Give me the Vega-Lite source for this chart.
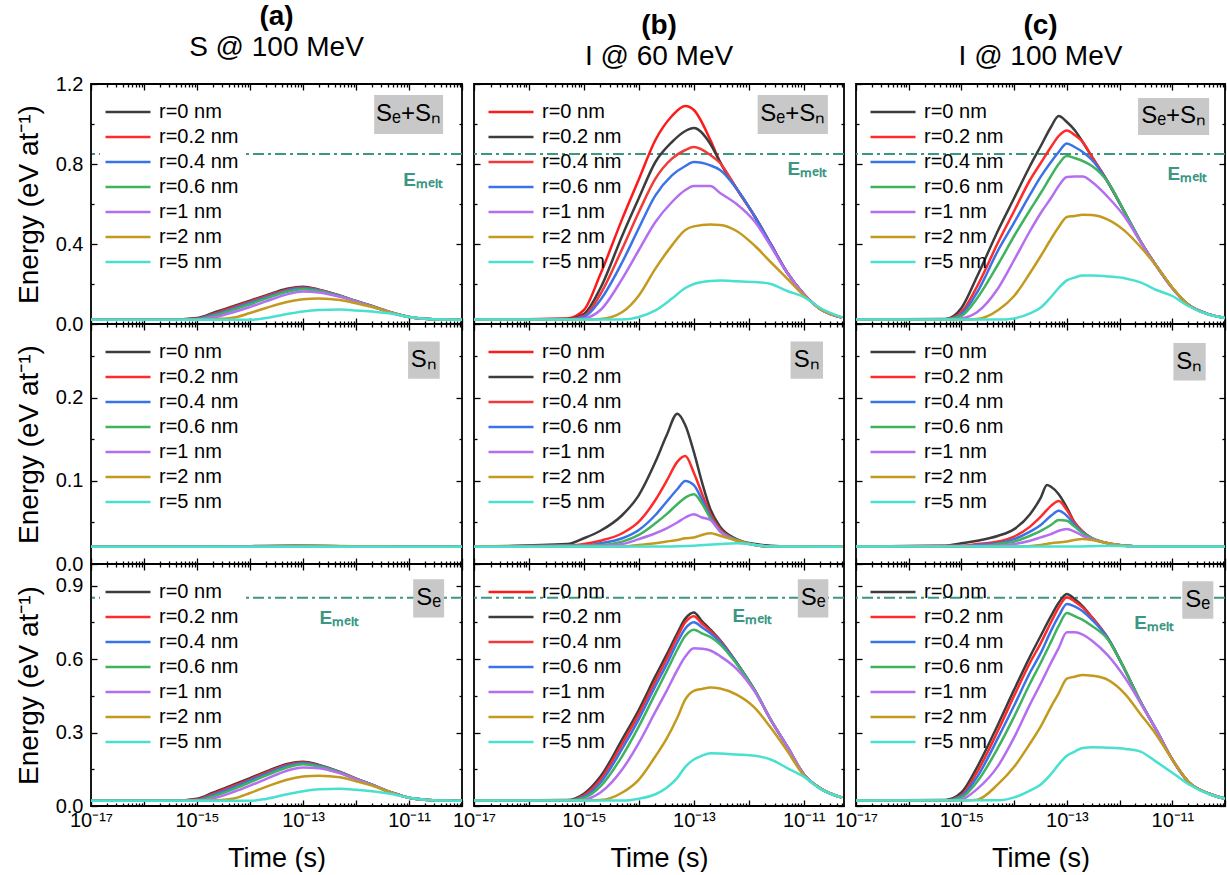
{
"$schema": "https://vega.github.io/schema/vega-lite/v6.json",
"padding": {"left": 14, "top": 2, "right": 0, "bottom": 0},
"params": [
 {"name": "xa", "value": [1e-17,2e-17,3e-17,4e-17,5e-17,6e-17,7e-17,8e-17,9e-17,1e-16,2e-16,3e-16,4e-16,5e-16,6e-16,7e-16,8e-16,9e-16,1e-15,2e-15,3e-15,4e-15,5e-15,6e-15,7e-15,8e-15,9e-15,1e-14,2e-14,3e-14,4e-14,5e-14,6e-14,7e-14,8e-14,9e-14,1e-13,2e-13,3e-13,4e-13,5e-13,6e-13,7e-13,8e-13,9e-13,1e-12,2e-12,3e-12,4e-12,5e-12,6e-12,7e-12,8e-12,9e-12,1e-11,2e-11,3e-11,4e-11,5e-11,6e-11,7e-11,8e-11,9e-11,1e-10]},
 {"name": "xb", "value": [1e-17,2e-17,3e-17,4e-17,5e-17,6e-17,7e-17,8e-17,9e-17,1e-16,2e-16,3e-16,4e-16,5e-16,6e-16,7e-16,8e-16,9e-16,1e-15,2e-15,3e-15,4e-15,5e-15,6e-15,7e-15,8e-15,9e-15,1e-14,2e-14,3e-14,4e-14,5e-14,6e-14,7e-14,8e-14,9e-14,1e-13,2e-13,3e-13,4e-13,5e-13,6e-13,7e-13,8e-13,9e-13,1e-12,2e-12,3e-12,4e-12,5e-12,6e-12,7e-12,8e-12,9e-12,1e-11,2e-11,3e-11,4e-11,5e-11]}
],
"bounds": "flush",
"columns": 3,
"spacing": {"row": 0, "column": 12},
"resolve": {"scale": {"x": "independent", "y": "independent", "color": "independent"}, "axis": {"x": "independent", "y": "independent"}, "legend": {"color": "independent"}},
"datasets": {
"a1": [
{"r":"0","t":1e-17,"e":0.021},{"r":"0","t":3e-16,"e":0.021},{"r":"0","t":1e-15,"e":0.03},{"r":"0","t":2e-15,"e":0.055},{"r":"0","t":5e-15,"e":0.09},{"r":"0","t":1e-14,"e":0.117},{"r":"0","t":2e-14,"e":0.143},{"r":"0","t":5e-14,"e":0.176},{"r":"0","t":1e-13,"e":0.186},{"r":"0","t":2e-13,"e":0.172},{"r":"0","t":5e-13,"e":0.142},{"r":"0","t":1e-12,"e":0.115},{"r":"0","t":2e-12,"e":0.09},{"r":"0","t":5e-12,"e":0.055},{"r":"0","t":1e-11,"e":0.035},{"r":"0","t":2e-11,"e":0.026},{"r":"0","t":5e-11,"e":0.022},{"r":"0","t":1e-10,"e":0.021},
{"r":"0.2","t":1e-17,"e":0.021},{"r":"0.2","t":3e-16,"e":0.021},{"r":"0.2","t":1e-15,"e":0.027},{"r":"0.2","t":2e-15,"e":0.05},{"r":"0.2","t":5e-15,"e":0.085},{"r":"0.2","t":1e-14,"e":0.112},{"r":"0.2","t":2e-14,"e":0.139},{"r":"0.2","t":5e-14,"e":0.172},{"r":"0.2","t":1e-13,"e":0.183},{"r":"0.2","t":2e-13,"e":0.17},{"r":"0.2","t":5e-13,"e":0.141},{"r":"0.2","t":1e-12,"e":0.115},{"r":"0.2","t":2e-12,"e":0.09},{"r":"0.2","t":5e-12,"e":0.055},{"r":"0.2","t":1e-11,"e":0.035},{"r":"0.2","t":2e-11,"e":0.026},{"r":"0.2","t":5e-11,"e":0.022},{"r":"0.2","t":1e-10,"e":0.021},
{"r":"0.4","t":1e-17,"e":0.021},{"r":"0.4","t":3e-16,"e":0.021},{"r":"0.4","t":1e-15,"e":0.025},{"r":"0.4","t":2e-15,"e":0.045},{"r":"0.4","t":5e-15,"e":0.079},{"r":"0.4","t":1e-14,"e":0.106},{"r":"0.4","t":2e-14,"e":0.133},{"r":"0.4","t":5e-14,"e":0.167},{"r":"0.4","t":1e-13,"e":0.179},{"r":"0.4","t":2e-13,"e":0.168},{"r":"0.4","t":5e-13,"e":0.14},{"r":"0.4","t":1e-12,"e":0.114},{"r":"0.4","t":2e-12,"e":0.089},{"r":"0.4","t":5e-12,"e":0.055},{"r":"0.4","t":1e-11,"e":0.035},{"r":"0.4","t":2e-11,"e":0.026},{"r":"0.4","t":5e-11,"e":0.022},{"r":"0.4","t":1e-10,"e":0.021},
{"r":"0.6","t":1e-17,"e":0.021},{"r":"0.6","t":3e-16,"e":0.021},{"r":"0.6","t":1e-15,"e":0.023},{"r":"0.6","t":2e-15,"e":0.04},{"r":"0.6","t":5e-15,"e":0.072},{"r":"0.6","t":1e-14,"e":0.099},{"r":"0.6","t":2e-14,"e":0.127},{"r":"0.6","t":5e-14,"e":0.161},{"r":"0.6","t":1e-13,"e":0.174},{"r":"0.6","t":2e-13,"e":0.165},{"r":"0.6","t":5e-13,"e":0.139},{"r":"0.6","t":1e-12,"e":0.114},{"r":"0.6","t":2e-12,"e":0.089},{"r":"0.6","t":5e-12,"e":0.055},{"r":"0.6","t":1e-11,"e":0.035},{"r":"0.6","t":2e-11,"e":0.026},{"r":"0.6","t":5e-11,"e":0.022},{"r":"0.6","t":1e-10,"e":0.021},
{"r":"1","t":1e-17,"e":0.021},{"r":"1","t":3e-16,"e":0.021},{"r":"1","t":1e-15,"e":0.022},{"r":"1","t":2e-15,"e":0.032},{"r":"1","t":5e-15,"e":0.06},{"r":"1","t":1e-14,"e":0.085},{"r":"1","t":2e-14,"e":0.113},{"r":"1","t":5e-14,"e":0.148},{"r":"1","t":1e-13,"e":0.162},{"r":"1","t":2e-13,"e":0.158},{"r":"1","t":5e-13,"e":0.136},{"r":"1","t":1e-12,"e":0.112},{"r":"1","t":2e-12,"e":0.088},{"r":"1","t":5e-12,"e":0.055},{"r":"1","t":1e-11,"e":0.035},{"r":"1","t":2e-11,"e":0.026},{"r":"1","t":5e-11,"e":0.022},{"r":"1","t":1e-10,"e":0.021},
{"r":"2","t":1e-17,"e":0.021},{"r":"2","t":1e-15,"e":0.021},{"r":"2","t":2e-15,"e":0.023},{"r":"2","t":5e-15,"e":0.032},{"r":"2","t":1e-14,"e":0.055},{"r":"2","t":2e-14,"e":0.08},{"r":"2","t":5e-14,"e":0.11},{"r":"2","t":1e-13,"e":0.124},{"r":"2","t":2e-13,"e":0.128},{"r":"2","t":5e-13,"e":0.12},{"r":"2","t":1e-12,"e":0.104},{"r":"2","t":2e-12,"e":0.085},{"r":"2","t":5e-12,"e":0.054},{"r":"2","t":1e-11,"e":0.035},{"r":"2","t":2e-11,"e":0.026},{"r":"2","t":5e-11,"e":0.022},{"r":"2","t":1e-10,"e":0.021},
{"r":"5","t":1e-17,"e":0.021},{"r":"5","t":1e-14,"e":0.021},{"r":"5","t":2e-14,"e":0.03},{"r":"5","t":5e-14,"e":0.05},{"r":"5","t":1e-13,"e":0.063},{"r":"5","t":2e-13,"e":0.07},{"r":"5","t":5e-13,"e":0.072},{"r":"5","t":1e-12,"e":0.068},{"r":"5","t":2e-12,"e":0.062},{"r":"5","t":5e-12,"e":0.05},{"r":"5","t":1e-11,"e":0.035},{"r":"5","t":2e-11,"e":0.026},{"r":"5","t":5e-11,"e":0.022},{"r":"5","t":1e-10,"e":0.021}
],
"a2": [
{"r":"0","t":1e-17,"e":0.0208},{"r":"0","t":1e-15,"e":0.021},{"r":"0","t":1e-14,"e":0.0215},{"r":"0","t":7e-14,"e":0.022},{"r":"0","t":5e-13,"e":0.0215},{"r":"0","t":5e-12,"e":0.021},{"r":"0","t":1e-10,"e":0.0208},
{"r":"0.2","t":1e-17,"e":0.0208},{"r":"0.2","t":1e-15,"e":0.0209},{"r":"0.2","t":1e-14,"e":0.0213},{"r":"0.2","t":1e-13,"e":0.0218},{"r":"0.2","t":1e-12,"e":0.0213},{"r":"0.2","t":1e-11,"e":0.0209},{"r":"0.2","t":1e-10,"e":0.0208},
{"r":"0.4","t":1e-17,"e":0.0208},{"r":"0.4","t":1e-15,"e":0.0209},{"r":"0.4","t":1e-14,"e":0.0213},{"r":"0.4","t":1e-13,"e":0.0217},{"r":"0.4","t":1e-12,"e":0.0213},{"r":"0.4","t":1e-11,"e":0.0209},{"r":"0.4","t":1e-10,"e":0.0208},
{"r":"0.6","t":1e-17,"e":0.0208},{"r":"0.6","t":1e-15,"e":0.0209},{"r":"0.6","t":1e-14,"e":0.0212},{"r":"0.6","t":1e-13,"e":0.0216},{"r":"0.6","t":1e-12,"e":0.0213},{"r":"0.6","t":1e-11,"e":0.0209},{"r":"0.6","t":1e-10,"e":0.0208},
{"r":"1","t":1e-17,"e":0.0208},{"r":"1","t":1e-15,"e":0.0208},{"r":"1","t":1e-14,"e":0.0211},{"r":"1","t":1e-13,"e":0.0215},{"r":"1","t":1e-12,"e":0.0212},{"r":"1","t":1e-11,"e":0.0209},{"r":"1","t":1e-10,"e":0.0208},
{"r":"2","t":1e-17,"e":0.0208},{"r":"2","t":1e-14,"e":0.0209},{"r":"2","t":1e-13,"e":0.0213},{"r":"2","t":1e-12,"e":0.0212},{"r":"2","t":1e-11,"e":0.0209},{"r":"2","t":1e-10,"e":0.0208},
{"r":"5","t":1e-17,"e":0.0208},{"r":"5","t":1e-13,"e":0.0209},{"r":"5","t":1e-10,"e":0.0208}
],
"a3": [
{"r":"0","t":1e-17,"e":0.021},{"r":"0","t":3e-16,"e":0.021},{"r":"0","t":1e-15,"e":0.03},{"r":"0","t":2e-15,"e":0.054},{"r":"0","t":5e-15,"e":0.088},{"r":"0","t":1e-14,"e":0.114},{"r":"0","t":2e-14,"e":0.14},{"r":"0","t":5e-14,"e":0.172},{"r":"0","t":1e-13,"e":0.181},{"r":"0","t":2e-13,"e":0.168},{"r":"0","t":5e-13,"e":0.139},{"r":"0","t":1e-12,"e":0.112},{"r":"0","t":2e-12,"e":0.087},{"r":"0","t":5e-12,"e":0.053},{"r":"0","t":1e-11,"e":0.034},{"r":"0","t":2e-11,"e":0.026},{"r":"0","t":5e-11,"e":0.022},{"r":"0","t":1e-10,"e":0.021},
{"r":"0.2","t":1e-17,"e":0.021},{"r":"0.2","t":3e-16,"e":0.021},{"r":"0.2","t":1e-15,"e":0.027},{"r":"0.2","t":2e-15,"e":0.049},{"r":"0.2","t":5e-15,"e":0.083},{"r":"0.2","t":1e-14,"e":0.109},{"r":"0.2","t":2e-14,"e":0.136},{"r":"0.2","t":5e-14,"e":0.168},{"r":"0.2","t":1e-13,"e":0.178},{"r":"0.2","t":2e-13,"e":0.166},{"r":"0.2","t":5e-13,"e":0.138},{"r":"0.2","t":1e-12,"e":0.112},{"r":"0.2","t":2e-12,"e":0.087},{"r":"0.2","t":5e-12,"e":0.053},{"r":"0.2","t":1e-11,"e":0.034},{"r":"0.2","t":2e-11,"e":0.026},{"r":"0.2","t":5e-11,"e":0.022},{"r":"0.2","t":1e-10,"e":0.021},
{"r":"0.4","t":1e-17,"e":0.021},{"r":"0.4","t":3e-16,"e":0.021},{"r":"0.4","t":1e-15,"e":0.025},{"r":"0.4","t":2e-15,"e":0.044},{"r":"0.4","t":5e-15,"e":0.077},{"r":"0.4","t":1e-14,"e":0.104},{"r":"0.4","t":2e-14,"e":0.13},{"r":"0.4","t":5e-14,"e":0.163},{"r":"0.4","t":1e-13,"e":0.175},{"r":"0.4","t":2e-13,"e":0.164},{"r":"0.4","t":5e-13,"e":0.137},{"r":"0.4","t":1e-12,"e":0.111},{"r":"0.4","t":2e-12,"e":0.087},{"r":"0.4","t":5e-12,"e":0.053},{"r":"0.4","t":1e-11,"e":0.034},{"r":"0.4","t":2e-11,"e":0.026},{"r":"0.4","t":5e-11,"e":0.022},{"r":"0.4","t":1e-10,"e":0.021},
{"r":"0.6","t":1e-17,"e":0.021},{"r":"0.6","t":3e-16,"e":0.021},{"r":"0.6","t":1e-15,"e":0.023},{"r":"0.6","t":2e-15,"e":0.039},{"r":"0.6","t":5e-15,"e":0.07},{"r":"0.6","t":1e-14,"e":0.097},{"r":"0.6","t":2e-14,"e":0.124},{"r":"0.6","t":5e-14,"e":0.157},{"r":"0.6","t":1e-13,"e":0.17},{"r":"0.6","t":2e-13,"e":0.161},{"r":"0.6","t":5e-13,"e":0.136},{"r":"0.6","t":1e-12,"e":0.111},{"r":"0.6","t":2e-12,"e":0.087},{"r":"0.6","t":5e-12,"e":0.053},{"r":"0.6","t":1e-11,"e":0.034},{"r":"0.6","t":2e-11,"e":0.026},{"r":"0.6","t":5e-11,"e":0.022},{"r":"0.6","t":1e-10,"e":0.021},
{"r":"1","t":1e-17,"e":0.021},{"r":"1","t":3e-16,"e":0.021},{"r":"1","t":1e-15,"e":0.022},{"r":"1","t":2e-15,"e":0.031},{"r":"1","t":5e-15,"e":0.058},{"r":"1","t":1e-14,"e":0.083},{"r":"1","t":2e-14,"e":0.11},{"r":"1","t":5e-14,"e":0.144},{"r":"1","t":1e-13,"e":0.157},{"r":"1","t":2e-13,"e":0.154},{"r":"1","t":5e-13,"e":0.133},{"r":"1","t":1e-12,"e":0.109},{"r":"1","t":2e-12,"e":0.086},{"r":"1","t":5e-12,"e":0.053},{"r":"1","t":1e-11,"e":0.034},{"r":"1","t":2e-11,"e":0.026},{"r":"1","t":5e-11,"e":0.022},{"r":"1","t":1e-10,"e":0.021},
{"r":"2","t":1e-17,"e":0.021},{"r":"2","t":1e-15,"e":0.021},{"r":"2","t":2e-15,"e":0.023},{"r":"2","t":5e-15,"e":0.031},{"r":"2","t":1e-14,"e":0.053},{"r":"2","t":2e-14,"e":0.078},{"r":"2","t":5e-14,"e":0.107},{"r":"2","t":1e-13,"e":0.12},{"r":"2","t":2e-13,"e":0.124},{"r":"2","t":5e-13,"e":0.117},{"r":"2","t":1e-12,"e":0.101},{"r":"2","t":2e-12,"e":0.083},{"r":"2","t":5e-12,"e":0.052},{"r":"2","t":1e-11,"e":0.034},{"r":"2","t":2e-11,"e":0.026},{"r":"2","t":5e-11,"e":0.022},{"r":"2","t":1e-10,"e":0.021},
{"r":"5","t":1e-17,"e":0.021},{"r":"5","t":1e-14,"e":0.021},{"r":"5","t":2e-14,"e":0.029},{"r":"5","t":5e-14,"e":0.048},{"r":"5","t":1e-13,"e":0.06},{"r":"5","t":2e-13,"e":0.068},{"r":"5","t":5e-13,"e":0.07},{"r":"5","t":1e-12,"e":0.066},{"r":"5","t":2e-12,"e":0.06},{"r":"5","t":5e-12,"e":0.048},{"r":"5","t":1e-11,"e":0.034},{"r":"5","t":2e-11,"e":0.026},{"r":"5","t":5e-11,"e":0.022},{"r":"5","t":1e-10,"e":0.021}
],
"b1": [
{"r":"0","t":1e-17,"e":0.022},{"r":"0","t":5e-16,"e":0.028},{"r":"0","t":1e-15,"e":0.07},{"r":"0","t":2e-15,"e":0.25},{"r":"0","t":5e-15,"e":0.527},{"r":"0","t":1e-14,"e":0.724},{"r":"0","t":2e-14,"e":0.92},{"r":"0","t":4e-14,"e":1.04},{"r":"0","t":7e-14,"e":1.09},{"r":"0","t":1e-13,"e":1.07},{"r":"0","t":2e-13,"e":0.92},{"r":"0","t":3e-13,"e":0.81},{"r":"0","t":6e-13,"e":0.677},{"r":"0","t":1.3e-12,"e":0.535},{"r":"0","t":2.5e-12,"e":0.4},{"r":"0","t":5e-12,"e":0.257},{"r":"0","t":1e-11,"e":0.15},{"r":"0","t":2e-11,"e":0.075},{"r":"0","t":5e-11,"e":0.032},
{"r":"0.2","t":1e-17,"e":0.022},{"r":"0.2","t":5e-16,"e":0.025},{"r":"0.2","t":1e-15,"e":0.05},{"r":"0.2","t":2e-15,"e":0.18},{"r":"0.2","t":5e-15,"e":0.443},{"r":"0.2","t":1e-14,"e":0.63},{"r":"0.2","t":2e-14,"e":0.81},{"r":"0.2","t":4e-14,"e":0.91},{"r":"0.2","t":7e-14,"e":0.965},{"r":"0.2","t":1e-13,"e":0.98},{"r":"0.2","t":2e-13,"e":0.9},{"r":"0.2","t":3e-13,"e":0.81},{"r":"0.2","t":6e-13,"e":0.677},{"r":"0.2","t":1.3e-12,"e":0.535},{"r":"0.2","t":2.5e-12,"e":0.4},{"r":"0.2","t":5e-12,"e":0.257},{"r":"0.2","t":1e-11,"e":0.15},{"r":"0.2","t":2e-11,"e":0.075},{"r":"0.2","t":5e-11,"e":0.032},
{"r":"0.4","t":1e-17,"e":0.022},{"r":"0.4","t":5e-16,"e":0.023},{"r":"0.4","t":1e-15,"e":0.04},{"r":"0.4","t":2e-15,"e":0.15},{"r":"0.4","t":5e-15,"e":0.377},{"r":"0.4","t":1e-14,"e":0.56},{"r":"0.4","t":2e-14,"e":0.727},{"r":"0.4","t":4e-14,"e":0.827},{"r":"0.4","t":7e-14,"e":0.87},{"r":"0.4","t":1e-13,"e":0.885},{"r":"0.4","t":2e-13,"e":0.845},{"r":"0.4","t":3e-13,"e":0.805},{"r":"0.4","t":6e-13,"e":0.677},{"r":"0.4","t":1.3e-12,"e":0.535},{"r":"0.4","t":2.5e-12,"e":0.4},{"r":"0.4","t":5e-12,"e":0.257},{"r":"0.4","t":1e-11,"e":0.15},{"r":"0.4","t":2e-11,"e":0.075},{"r":"0.4","t":5e-11,"e":0.032},
{"r":"0.6","t":1e-17,"e":0.022},{"r":"0.6","t":5e-16,"e":0.022},{"r":"0.6","t":1e-15,"e":0.035},{"r":"0.6","t":2e-15,"e":0.12},{"r":"0.6","t":5e-15,"e":0.31},{"r":"0.6","t":1e-14,"e":0.48},{"r":"0.6","t":2e-14,"e":0.643},{"r":"0.6","t":4e-14,"e":0.743},{"r":"0.6","t":7e-14,"e":0.79},{"r":"0.6","t":1e-13,"e":0.81},{"r":"0.6","t":2e-13,"e":0.793},{"r":"0.6","t":3e-13,"e":0.77},{"r":"0.6","t":6e-13,"e":0.677},{"r":"0.6","t":1.3e-12,"e":0.535},{"r":"0.6","t":2.5e-12,"e":0.4},{"r":"0.6","t":5e-12,"e":0.257},{"r":"0.6","t":1e-11,"e":0.15},{"r":"0.6","t":2e-11,"e":0.075},{"r":"0.6","t":5e-11,"e":0.032},
{"r":"1","t":1e-17,"e":0.022},{"r":"1","t":5e-16,"e":0.022},{"r":"1","t":1e-15,"e":0.028},{"r":"1","t":2e-15,"e":0.07},{"r":"1","t":5e-15,"e":0.227},{"r":"1","t":1e-14,"e":0.37},{"r":"1","t":2e-14,"e":0.51},{"r":"1","t":4e-14,"e":0.61},{"r":"1","t":7e-14,"e":0.67},{"r":"1","t":1e-13,"e":0.69},{"r":"1","t":2e-13,"e":0.69},{"r":"1","t":3e-13,"e":0.655},{"r":"1","t":6e-13,"e":0.6},{"r":"1","t":1.3e-12,"e":0.51},{"r":"1","t":2.5e-12,"e":0.39},{"r":"1","t":5e-12,"e":0.255},{"r":"1","t":1e-11,"e":0.15},{"r":"1","t":2e-11,"e":0.075},{"r":"1","t":5e-11,"e":0.032},
{"r":"2","t":1e-17,"e":0.022},{"r":"2","t":1e-15,"e":0.022},{"r":"2","t":2e-15,"e":0.025},{"r":"2","t":5e-15,"e":0.06},{"r":"2","t":1e-14,"e":0.143},{"r":"2","t":2e-14,"e":0.277},{"r":"2","t":4e-14,"e":0.393},{"r":"2","t":7e-14,"e":0.47},{"r":"2","t":1e-13,"e":0.488},{"r":"2","t":2e-13,"e":0.497},{"r":"2","t":3e-13,"e":0.495},{"r":"2","t":6e-13,"e":0.465},{"r":"2","t":1.3e-12,"e":0.39},{"r":"2","t":2.5e-12,"e":0.31},{"r":"2","t":5e-12,"e":0.227},{"r":"2","t":1e-11,"e":0.143},{"r":"2","t":2e-11,"e":0.075},{"r":"2","t":5e-11,"e":0.032},
{"r":"5","t":1e-17,"e":0.022},{"r":"5","t":5e-15,"e":0.022},{"r":"5","t":1e-14,"e":0.035},{"r":"5","t":2e-14,"e":0.068},{"r":"5","t":4e-14,"e":0.127},{"r":"5","t":7e-14,"e":0.18},{"r":"5","t":1e-13,"e":0.2},{"r":"5","t":2e-13,"e":0.215},{"r":"5","t":3e-13,"e":0.217},{"r":"5","t":6e-13,"e":0.214},{"r":"5","t":1.3e-12,"e":0.21},{"r":"5","t":2.5e-12,"e":0.2},{"r":"5","t":5e-12,"e":0.165},{"r":"5","t":1e-11,"e":0.135},{"r":"5","t":2e-11,"e":0.08},{"r":"5","t":5e-11,"e":0.033}
],
"b2": [
{"r":"0","t":1e-17,"e":0.021},{"r":"0","t":5e-16,"e":0.024},{"r":"0","t":1e-15,"e":0.031},{"r":"0","t":2e-15,"e":0.04},{"r":"0","t":5e-15,"e":0.059},{"r":"0","t":1e-14,"e":0.083},{"r":"0","t":2e-14,"e":0.123},{"r":"0","t":3.2e-14,"e":0.155},{"r":"0","t":5e-14,"e":0.181},{"r":"0","t":7e-14,"e":0.167},{"r":"0","t":1e-13,"e":0.135},{"r":"0","t":1.4e-13,"e":0.099},{"r":"0","t":2e-13,"e":0.066},{"r":"0","t":3e-13,"e":0.045},{"r":"0","t":6e-13,"e":0.03},{"r":"0","t":1.3e-12,"e":0.024},{"r":"0","t":2.5e-12,"e":0.022},{"r":"0","t":5e-12,"e":0.021},{"r":"0","t":5e-11,"e":0.021},
{"r":"0.2","t":1e-17,"e":0.021},{"r":"0.2","t":5e-16,"e":0.022},{"r":"0.2","t":1e-15,"e":0.024},{"r":"0.2","t":2e-15,"e":0.028},{"r":"0.2","t":5e-15,"e":0.037},{"r":"0.2","t":1e-14,"e":0.051},{"r":"0.2","t":2e-14,"e":0.077},{"r":"0.2","t":3.2e-14,"e":0.1},{"r":"0.2","t":5e-14,"e":0.123},{"r":"0.2","t":7e-14,"e":0.13},{"r":"0.2","t":1e-13,"e":0.11},{"r":"0.2","t":1.4e-13,"e":0.085},{"r":"0.2","t":2e-13,"e":0.06},{"r":"0.2","t":3e-13,"e":0.042},{"r":"0.2","t":6e-13,"e":0.029},{"r":"0.2","t":1.3e-12,"e":0.023},{"r":"0.2","t":2.5e-12,"e":0.021},{"r":"0.2","t":5e-11,"e":0.021},
{"r":"0.4","t":1e-17,"e":0.021},{"r":"0.4","t":1e-15,"e":0.022},{"r":"0.4","t":2e-15,"e":0.025},{"r":"0.4","t":5e-15,"e":0.031},{"r":"0.4","t":1e-14,"e":0.041},{"r":"0.4","t":2e-14,"e":0.059},{"r":"0.4","t":3.2e-14,"e":0.075},{"r":"0.4","t":5e-14,"e":0.09},{"r":"0.4","t":7e-14,"e":0.1},{"r":"0.4","t":1e-13,"e":0.095},{"r":"0.4","t":1.4e-13,"e":0.078},{"r":"0.4","t":2e-13,"e":0.057},{"r":"0.4","t":3e-13,"e":0.04},{"r":"0.4","t":6e-13,"e":0.029},{"r":"0.4","t":1.3e-12,"e":0.023},{"r":"0.4","t":2.5e-12,"e":0.021},{"r":"0.4","t":5e-11,"e":0.021},
{"r":"0.6","t":1e-17,"e":0.021},{"r":"0.6","t":2e-15,"e":0.023},{"r":"0.6","t":5e-15,"e":0.027},{"r":"0.6","t":1e-14,"e":0.035},{"r":"0.6","t":2e-14,"e":0.049},{"r":"0.6","t":3.2e-14,"e":0.06},{"r":"0.6","t":5e-14,"e":0.072},{"r":"0.6","t":7e-14,"e":0.08},{"r":"0.6","t":1e-13,"e":0.084},{"r":"0.6","t":1.4e-13,"e":0.073},{"r":"0.6","t":2e-13,"e":0.055},{"r":"0.6","t":3e-13,"e":0.04},{"r":"0.6","t":6e-13,"e":0.029},{"r":"0.6","t":1.3e-12,"e":0.023},{"r":"0.6","t":2.5e-12,"e":0.021},{"r":"0.6","t":5e-11,"e":0.021},
{"r":"1","t":1e-17,"e":0.021},{"r":"1","t":2e-15,"e":0.022},{"r":"1","t":5e-15,"e":0.024},{"r":"1","t":1e-14,"e":0.03},{"r":"1","t":2e-14,"e":0.037},{"r":"1","t":3.2e-14,"e":0.043},{"r":"1","t":5e-14,"e":0.05},{"r":"1","t":7e-14,"e":0.056},{"r":"1","t":1e-13,"e":0.06},{"r":"1","t":1.4e-13,"e":0.056},{"r":"1","t":2e-13,"e":0.053},{"r":"1","t":3e-13,"e":0.039},{"r":"1","t":6e-13,"e":0.028},{"r":"1","t":1.3e-12,"e":0.023},{"r":"1","t":2.5e-12,"e":0.021},{"r":"1","t":5e-11,"e":0.021},
{"r":"2","t":1e-17,"e":0.021},{"r":"2","t":5e-15,"e":0.021},{"r":"2","t":1e-14,"e":0.023},{"r":"2","t":2e-14,"e":0.025},{"r":"2","t":3.2e-14,"e":0.027},{"r":"2","t":5e-14,"e":0.029},{"r":"2","t":7e-14,"e":0.031},{"r":"2","t":1e-13,"e":0.032},{"r":"2","t":1.4e-13,"e":0.035},{"r":"2","t":2e-13,"e":0.037},{"r":"2","t":3e-13,"e":0.034},{"r":"2","t":6e-13,"e":0.028},{"r":"2","t":1.3e-12,"e":0.023},{"r":"2","t":2.5e-12,"e":0.021},{"r":"2","t":5e-11,"e":0.021},
{"r":"5","t":1e-17,"e":0.0207},{"r":"5","t":3.2e-14,"e":0.021},{"r":"5","t":1e-13,"e":0.022},{"r":"5","t":3e-13,"e":0.024},{"r":"5","t":6e-13,"e":0.025},{"r":"5","t":1.3e-12,"e":0.023},{"r":"5","t":2.5e-12,"e":0.021},{"r":"5","t":5e-11,"e":0.0207}
],
"b3": [
{"r":"0","t":1e-17,"e":0.022},{"r":"0","t":5e-16,"e":0.024},{"r":"0","t":1e-15,"e":0.05},{"r":"0","t":2e-15,"e":0.12},{"r":"0","t":5e-15,"e":0.273},{"r":"0","t":1e-14,"e":0.393},{"r":"0","t":2e-14,"e":0.53},{"r":"0","t":3.2e-14,"e":0.618},{"r":"0","t":5e-14,"e":0.705},{"r":"0","t":7e-14,"e":0.765},{"r":"0","t":1e-13,"e":0.79},{"r":"0","t":1.4e-13,"e":0.755},{"r":"0","t":2e-13,"e":0.72},{"r":"0","t":3e-13,"e":0.677},{"r":"0","t":6e-13,"e":0.585},{"r":"0","t":1.3e-12,"e":0.47},{"r":"0","t":2.5e-12,"e":0.353},{"r":"0","t":5e-12,"e":0.243},{"r":"0","t":1e-11,"e":0.13},{"r":"0","t":2e-11,"e":0.072},{"r":"0","t":5e-11,"e":0.034},
{"r":"0.2","t":1e-17,"e":0.022},{"r":"0.2","t":5e-16,"e":0.023},{"r":"0.2","t":1e-15,"e":0.044},{"r":"0.2","t":2e-15,"e":0.108},{"r":"0.2","t":5e-15,"e":0.255},{"r":"0.2","t":1e-14,"e":0.375},{"r":"0.2","t":2e-14,"e":0.51},{"r":"0.2","t":3.2e-14,"e":0.6},{"r":"0.2","t":5e-14,"e":0.69},{"r":"0.2","t":7e-14,"e":0.75},{"r":"0.2","t":1e-13,"e":0.775},{"r":"0.2","t":1.4e-13,"e":0.745},{"r":"0.2","t":2e-13,"e":0.715},{"r":"0.2","t":3e-13,"e":0.675},{"r":"0.2","t":6e-13,"e":0.585},{"r":"0.2","t":1.3e-12,"e":0.47},{"r":"0.2","t":2.5e-12,"e":0.353},{"r":"0.2","t":5e-12,"e":0.243},{"r":"0.2","t":1e-11,"e":0.13},{"r":"0.2","t":2e-11,"e":0.072},{"r":"0.2","t":5e-11,"e":0.034},
{"r":"0.4","t":1e-17,"e":0.022},{"r":"0.4","t":5e-16,"e":0.022},{"r":"0.4","t":1e-15,"e":0.038},{"r":"0.4","t":2e-15,"e":0.095},{"r":"0.4","t":5e-15,"e":0.235},{"r":"0.4","t":1e-14,"e":0.355},{"r":"0.4","t":2e-14,"e":0.49},{"r":"0.4","t":3.2e-14,"e":0.578},{"r":"0.4","t":5e-14,"e":0.668},{"r":"0.4","t":7e-14,"e":0.725},{"r":"0.4","t":1e-13,"e":0.75},{"r":"0.4","t":1.4e-13,"e":0.73},{"r":"0.4","t":2e-13,"e":0.705},{"r":"0.4","t":3e-13,"e":0.67},{"r":"0.4","t":6e-13,"e":0.585},{"r":"0.4","t":1.3e-12,"e":0.47},{"r":"0.4","t":2.5e-12,"e":0.353},{"r":"0.4","t":5e-12,"e":0.243},{"r":"0.4","t":1e-11,"e":0.13},{"r":"0.4","t":2e-11,"e":0.072},{"r":"0.4","t":5e-11,"e":0.034},
{"r":"0.6","t":1e-17,"e":0.022},{"r":"0.6","t":5e-16,"e":0.022},{"r":"0.6","t":1e-15,"e":0.033},{"r":"0.6","t":2e-15,"e":0.08},{"r":"0.6","t":5e-15,"e":0.205},{"r":"0.6","t":1e-14,"e":0.325},{"r":"0.6","t":2e-14,"e":0.46},{"r":"0.6","t":3.2e-14,"e":0.55},{"r":"0.6","t":5e-14,"e":0.638},{"r":"0.6","t":7e-14,"e":0.695},{"r":"0.6","t":1e-13,"e":0.72},{"r":"0.6","t":1.4e-13,"e":0.705},{"r":"0.6","t":2e-13,"e":0.69},{"r":"0.6","t":3e-13,"e":0.66},{"r":"0.6","t":6e-13,"e":0.58},{"r":"0.6","t":1.3e-12,"e":0.47},{"r":"0.6","t":2.5e-12,"e":0.353},{"r":"0.6","t":5e-12,"e":0.243},{"r":"0.6","t":1e-11,"e":0.13},{"r":"0.6","t":2e-11,"e":0.072},{"r":"0.6","t":5e-11,"e":0.034},
{"r":"1","t":1e-17,"e":0.022},{"r":"1","t":5e-16,"e":0.022},{"r":"1","t":1e-15,"e":0.026},{"r":"1","t":2e-15,"e":0.055},{"r":"1","t":5e-15,"e":0.15},{"r":"1","t":1e-14,"e":0.258},{"r":"1","t":2e-14,"e":0.385},{"r":"1","t":3.2e-14,"e":0.47},{"r":"1","t":5e-14,"e":0.555},{"r":"1","t":7e-14,"e":0.61},{"r":"1","t":1e-13,"e":0.644},{"r":"1","t":1.4e-13,"e":0.642},{"r":"1","t":2e-13,"e":0.635},{"r":"1","t":3e-13,"e":0.612},{"r":"1","t":6e-13,"e":0.56},{"r":"1","t":1.3e-12,"e":0.465},{"r":"1","t":2.5e-12,"e":0.353},{"r":"1","t":5e-12,"e":0.243},{"r":"1","t":1e-11,"e":0.13},{"r":"1","t":2e-11,"e":0.072},{"r":"1","t":5e-11,"e":0.034},
{"r":"2","t":1e-17,"e":0.022},{"r":"2","t":1e-15,"e":0.022},{"r":"2","t":2e-15,"e":0.024},{"r":"2","t":5e-15,"e":0.055},{"r":"2","t":1e-14,"e":0.108},{"r":"2","t":2e-14,"e":0.203},{"r":"2","t":3.2e-14,"e":0.275},{"r":"2","t":5e-14,"e":0.36},{"r":"2","t":7e-14,"e":0.435},{"r":"2","t":1e-13,"e":0.47},{"r":"2","t":1.4e-13,"e":0.478},{"r":"2","t":2e-13,"e":0.484},{"r":"2","t":3e-13,"e":0.48},{"r":"2","t":6e-13,"e":0.455},{"r":"2","t":1.3e-12,"e":0.4},{"r":"2","t":2.5e-12,"e":0.32},{"r":"2","t":5e-12,"e":0.225},{"r":"2","t":1e-11,"e":0.125},{"r":"2","t":2e-11,"e":0.072},{"r":"2","t":5e-11,"e":0.034},
{"r":"5","t":1e-17,"e":0.022},{"r":"5","t":5e-15,"e":0.022},{"r":"5","t":1e-14,"e":0.03},{"r":"5","t":2e-14,"e":0.048},{"r":"5","t":3.2e-14,"e":0.075},{"r":"5","t":5e-14,"e":0.115},{"r":"5","t":7e-14,"e":0.16},{"r":"5","t":1e-13,"e":0.19},{"r":"5","t":1.4e-13,"e":0.205},{"r":"5","t":2e-13,"e":0.215},{"r":"5","t":3e-13,"e":0.214},{"r":"5","t":6e-13,"e":0.21},{"r":"5","t":1.3e-12,"e":0.205},{"r":"5","t":2.5e-12,"e":0.19},{"r":"5","t":5e-12,"e":0.155},{"r":"5","t":1e-11,"e":0.12},{"r":"5","t":2e-11,"e":0.07},{"r":"5","t":5e-11,"e":0.034}
],
"c1": [
{"r":"0","t":1e-17,"e":0.022},{"r":"0","t":5e-16,"e":0.025},{"r":"0","t":1e-15,"e":0.08},{"r":"0","t":2e-15,"e":0.24},{"r":"0","t":5e-15,"e":0.47},{"r":"0","t":1e-14,"e":0.63},{"r":"0","t":2e-14,"e":0.79},{"r":"0","t":3.2e-14,"e":0.89},{"r":"0","t":5e-14,"e":0.985},{"r":"0","t":7e-14,"e":1.04},{"r":"0","t":1e-13,"e":1.01},{"r":"0","t":1.4e-13,"e":0.97},{"r":"0","t":2e-13,"e":0.91},{"r":"0","t":3e-13,"e":0.835},{"r":"0","t":6e-13,"e":0.71},{"r":"0","t":1.3e-12,"e":0.55},{"r":"0","t":2.5e-12,"e":0.413},{"r":"0","t":5e-12,"e":0.29},{"r":"0","t":1e-11,"e":0.18},{"r":"0","t":2e-11,"e":0.097},{"r":"0","t":5e-11,"e":0.048},{"r":"0","t":1e-10,"e":0.03},
{"r":"0.2","t":1e-17,"e":0.022},{"r":"0.2","t":5e-16,"e":0.023},{"r":"0.2","t":1e-15,"e":0.06},{"r":"0.2","t":2e-15,"e":0.19},{"r":"0.2","t":5e-15,"e":0.41},{"r":"0.2","t":1e-14,"e":0.565},{"r":"0.2","t":2e-14,"e":0.72},{"r":"0.2","t":3.2e-14,"e":0.805},{"r":"0.2","t":5e-14,"e":0.885},{"r":"0.2","t":7e-14,"e":0.94},{"r":"0.2","t":1e-13,"e":0.968},{"r":"0.2","t":1.4e-13,"e":0.945},{"r":"0.2","t":2e-13,"e":0.91},{"r":"0.2","t":3e-13,"e":0.835},{"r":"0.2","t":6e-13,"e":0.71},{"r":"0.2","t":1.3e-12,"e":0.55},{"r":"0.2","t":2.5e-12,"e":0.413},{"r":"0.2","t":5e-12,"e":0.29},{"r":"0.2","t":1e-11,"e":0.18},{"r":"0.2","t":2e-11,"e":0.097},{"r":"0.2","t":5e-11,"e":0.048},{"r":"0.2","t":1e-10,"e":0.03},
{"r":"0.4","t":1e-17,"e":0.022},{"r":"0.4","t":5e-16,"e":0.022},{"r":"0.4","t":1e-15,"e":0.05},{"r":"0.4","t":2e-15,"e":0.16},{"r":"0.4","t":5e-15,"e":0.37},{"r":"0.4","t":1e-14,"e":0.507},{"r":"0.4","t":2e-14,"e":0.647},{"r":"0.4","t":3.2e-14,"e":0.737},{"r":"0.4","t":5e-14,"e":0.81},{"r":"0.4","t":7e-14,"e":0.86},{"r":"0.4","t":1e-13,"e":0.903},{"r":"0.4","t":1.4e-13,"e":0.885},{"r":"0.4","t":2e-13,"e":0.86},{"r":"0.4","t":3e-13,"e":0.82},{"r":"0.4","t":6e-13,"e":0.71},{"r":"0.4","t":1.3e-12,"e":0.55},{"r":"0.4","t":2.5e-12,"e":0.413},{"r":"0.4","t":5e-12,"e":0.29},{"r":"0.4","t":1e-11,"e":0.18},{"r":"0.4","t":2e-11,"e":0.097},{"r":"0.4","t":5e-11,"e":0.048},{"r":"0.4","t":1e-10,"e":0.03},
{"r":"0.6","t":1e-17,"e":0.022},{"r":"0.6","t":5e-16,"e":0.022},{"r":"0.6","t":1e-15,"e":0.04},{"r":"0.6","t":2e-15,"e":0.13},{"r":"0.6","t":5e-15,"e":0.3},{"r":"0.6","t":1e-14,"e":0.44},{"r":"0.6","t":2e-14,"e":0.57},{"r":"0.6","t":3.2e-14,"e":0.655},{"r":"0.6","t":5e-14,"e":0.74},{"r":"0.6","t":7e-14,"e":0.8},{"r":"0.6","t":1e-13,"e":0.84},{"r":"0.6","t":1.4e-13,"e":0.83},{"r":"0.6","t":2e-13,"e":0.815},{"r":"0.6","t":3e-13,"e":0.79},{"r":"0.6","t":6e-13,"e":0.71},{"r":"0.6","t":1.3e-12,"e":0.55},{"r":"0.6","t":2.5e-12,"e":0.413},{"r":"0.6","t":5e-12,"e":0.29},{"r":"0.6","t":1e-11,"e":0.18},{"r":"0.6","t":2e-11,"e":0.097},{"r":"0.6","t":5e-11,"e":0.048},{"r":"0.6","t":1e-10,"e":0.03},
{"r":"1","t":1e-17,"e":0.022},{"r":"1","t":5e-16,"e":0.022},{"r":"1","t":1e-15,"e":0.028},{"r":"1","t":2e-15,"e":0.06},{"r":"1","t":5e-15,"e":0.18},{"r":"1","t":1e-14,"e":0.32},{"r":"1","t":2e-14,"e":0.465},{"r":"1","t":3.2e-14,"e":0.555},{"r":"1","t":5e-14,"e":0.63},{"r":"1","t":7e-14,"e":0.69},{"r":"1","t":1e-13,"e":0.735},{"r":"1","t":1.4e-13,"e":0.737},{"r":"1","t":2e-13,"e":0.737},{"r":"1","t":3e-13,"e":0.71},{"r":"1","t":6e-13,"e":0.635},{"r":"1","t":1.3e-12,"e":0.53},{"r":"1","t":2.5e-12,"e":0.41},{"r":"1","t":5e-12,"e":0.29},{"r":"1","t":1e-11,"e":0.18},{"r":"1","t":2e-11,"e":0.097},{"r":"1","t":5e-11,"e":0.048},{"r":"1","t":1e-10,"e":0.03},
{"r":"2","t":1e-17,"e":0.022},{"r":"2","t":1e-15,"e":0.022},{"r":"2","t":2e-15,"e":0.025},{"r":"2","t":5e-15,"e":0.07},{"r":"2","t":1e-14,"e":0.14},{"r":"2","t":2e-14,"e":0.255},{"r":"2","t":3.2e-14,"e":0.34},{"r":"2","t":5e-14,"e":0.425},{"r":"2","t":7e-14,"e":0.485},{"r":"2","t":1e-13,"e":0.535},{"r":"2","t":1.4e-13,"e":0.54},{"r":"2","t":2e-13,"e":0.546},{"r":"2","t":3e-13,"e":0.545},{"r":"2","t":6e-13,"e":0.522},{"r":"2","t":1.3e-12,"e":0.462},{"r":"2","t":2.5e-12,"e":0.385},{"r":"2","t":5e-12,"e":0.29},{"r":"2","t":1e-11,"e":0.183},{"r":"2","t":2e-11,"e":0.097},{"r":"2","t":5e-11,"e":0.048},{"r":"2","t":1e-10,"e":0.03},
{"r":"5","t":1e-17,"e":0.022},{"r":"5","t":5e-15,"e":0.022},{"r":"5","t":1e-14,"e":0.028},{"r":"5","t":2e-14,"e":0.053},{"r":"5","t":3.2e-14,"e":0.082},{"r":"5","t":5e-14,"e":0.135},{"r":"5","t":7e-14,"e":0.18},{"r":"5","t":1e-13,"e":0.218},{"r":"5","t":1.4e-13,"e":0.232},{"r":"5","t":2e-13,"e":0.242},{"r":"5","t":3e-13,"e":0.242},{"r":"5","t":6e-13,"e":0.238},{"r":"5","t":1.3e-12,"e":0.228},{"r":"5","t":2.5e-12,"e":0.208},{"r":"5","t":5e-12,"e":0.17},{"r":"5","t":1e-11,"e":0.14},{"r":"5","t":2e-11,"e":0.09},{"r":"5","t":5e-11,"e":0.046},{"r":"5","t":1e-10,"e":0.03}
],
"c2": [
{"r":"0","t":1e-17,"e":0.021},{"r":"0","t":5e-16,"e":0.022},{"r":"0","t":1e-15,"e":0.025},{"r":"0","t":2e-15,"e":0.028},{"r":"0","t":5e-15,"e":0.034},{"r":"0","t":1e-14,"e":0.042},{"r":"0","t":2e-14,"e":0.06},{"r":"0","t":3.2e-14,"e":0.08},{"r":"0","t":4.2e-14,"e":0.095},{"r":"0","t":5e-14,"e":0.093},{"r":"0","t":7e-14,"e":0.084},{"r":"0","t":1e-13,"e":0.068},{"r":"0","t":1.4e-13,"e":0.05},{"r":"0","t":2e-13,"e":0.039},{"r":"0","t":3e-13,"e":0.031},{"r":"0","t":6e-13,"e":0.025},{"r":"0","t":1.3e-12,"e":0.022},{"r":"0","t":2.5e-12,"e":0.021},{"r":"0","t":1e-10,"e":0.021},
{"r":"0.2","t":1e-17,"e":0.021},{"r":"0.2","t":1e-15,"e":0.022},{"r":"0.2","t":2e-15,"e":0.024},{"r":"0.2","t":5e-15,"e":0.027},{"r":"0.2","t":1e-14,"e":0.033},{"r":"0.2","t":2e-14,"e":0.045},{"r":"0.2","t":3.2e-14,"e":0.057},{"r":"0.2","t":5e-14,"e":0.07},{"r":"0.2","t":7e-14,"e":0.076},{"r":"0.2","t":1e-13,"e":0.065},{"r":"0.2","t":1.4e-13,"e":0.05},{"r":"0.2","t":2e-13,"e":0.039},{"r":"0.2","t":3e-13,"e":0.031},{"r":"0.2","t":6e-13,"e":0.025},{"r":"0.2","t":1.3e-12,"e":0.022},{"r":"0.2","t":2.5e-12,"e":0.021},{"r":"0.2","t":1e-10,"e":0.021},
{"r":"0.4","t":1e-17,"e":0.021},{"r":"0.4","t":1e-15,"e":0.021},{"r":"0.4","t":2e-15,"e":0.023},{"r":"0.4","t":5e-15,"e":0.025},{"r":"0.4","t":1e-14,"e":0.03},{"r":"0.4","t":2e-14,"e":0.039},{"r":"0.4","t":3.2e-14,"e":0.047},{"r":"0.4","t":5e-14,"e":0.058},{"r":"0.4","t":7e-14,"e":0.064},{"r":"0.4","t":1e-13,"e":0.058},{"r":"0.4","t":1.4e-13,"e":0.047},{"r":"0.4","t":2e-13,"e":0.038},{"r":"0.4","t":3e-13,"e":0.031},{"r":"0.4","t":6e-13,"e":0.025},{"r":"0.4","t":1.3e-12,"e":0.022},{"r":"0.4","t":2.5e-12,"e":0.021},{"r":"0.4","t":1e-10,"e":0.021},
{"r":"0.6","t":1e-17,"e":0.021},{"r":"0.6","t":2e-15,"e":0.021},{"r":"0.6","t":5e-15,"e":0.024},{"r":"0.6","t":1e-14,"e":0.027},{"r":"0.6","t":2e-14,"e":0.034},{"r":"0.6","t":3.2e-14,"e":0.04},{"r":"0.6","t":5e-14,"e":0.047},{"r":"0.6","t":7e-14,"e":0.053},{"r":"0.6","t":1e-13,"e":0.052},{"r":"0.6","t":1.4e-13,"e":0.045},{"r":"0.6","t":2e-13,"e":0.037},{"r":"0.6","t":3e-13,"e":0.031},{"r":"0.6","t":6e-13,"e":0.025},{"r":"0.6","t":1.3e-12,"e":0.022},{"r":"0.6","t":2.5e-12,"e":0.021},{"r":"0.6","t":1e-10,"e":0.021},
{"r":"1","t":1e-17,"e":0.021},{"r":"1","t":5e-15,"e":0.022},{"r":"1","t":1e-14,"e":0.024},{"r":"1","t":2e-14,"e":0.028},{"r":"1","t":3.2e-14,"e":0.032},{"r":"1","t":5e-14,"e":0.036},{"r":"1","t":7e-14,"e":0.04},{"r":"1","t":1e-13,"e":0.042},{"r":"1","t":1.4e-13,"e":0.039},{"r":"1","t":2e-13,"e":0.034},{"r":"1","t":3e-13,"e":0.03},{"r":"1","t":6e-13,"e":0.025},{"r":"1","t":1.3e-12,"e":0.022},{"r":"1","t":2.5e-12,"e":0.021},{"r":"1","t":1e-10,"e":0.021},
{"r":"2","t":1e-17,"e":0.021},{"r":"2","t":1e-14,"e":0.021},{"r":"2","t":3.2e-14,"e":0.023},{"r":"2","t":5e-14,"e":0.025},{"r":"2","t":1e-13,"e":0.027},{"r":"2","t":1.4e-13,"e":0.029},{"r":"2","t":2e-13,"e":0.03},{"r":"2","t":3e-13,"e":0.029},{"r":"2","t":6e-13,"e":0.025},{"r":"2","t":1.3e-12,"e":0.022},{"r":"2","t":2.5e-12,"e":0.021},{"r":"2","t":1e-10,"e":0.021},
{"r":"5","t":1e-17,"e":0.021},{"r":"5","t":1e-13,"e":0.021},{"r":"5","t":3e-13,"e":0.0215},{"r":"5","t":6e-13,"e":0.022},{"r":"5","t":2.5e-12,"e":0.021},{"r":"5","t":1e-10,"e":0.021}
],
"c3": [
{"r":"0","t":1e-17,"e":0.022},{"r":"0","t":5e-16,"e":0.025},{"r":"0","t":1e-15,"e":0.055},{"r":"0","t":2e-15,"e":0.16},{"r":"0","t":5e-15,"e":0.335},{"r":"0","t":1e-14,"e":0.475},{"r":"0","t":2e-14,"e":0.61},{"r":"0","t":3.2e-14,"e":0.695},{"r":"0","t":5e-14,"e":0.775},{"r":"0","t":7e-14,"e":0.83},{"r":"0","t":1e-13,"e":0.866},{"r":"0","t":1.4e-13,"e":0.845},{"r":"0","t":2e-13,"e":0.815},{"r":"0","t":3e-13,"e":0.77},{"r":"0","t":6e-13,"e":0.685},{"r":"0","t":1.3e-12,"e":0.55},{"r":"0","t":2.5e-12,"e":0.425},{"r":"0","t":5e-12,"e":0.31},{"r":"0","t":1e-11,"e":0.19},{"r":"0","t":2e-11,"e":0.1},{"r":"0","t":5e-11,"e":0.05},{"r":"0","t":1e-10,"e":0.03},
{"r":"0.2","t":1e-17,"e":0.022},{"r":"0.2","t":5e-16,"e":0.023},{"r":"0.2","t":1e-15,"e":0.045},{"r":"0.2","t":2e-15,"e":0.14},{"r":"0.2","t":5e-15,"e":0.31},{"r":"0.2","t":1e-14,"e":0.45},{"r":"0.2","t":2e-14,"e":0.585},{"r":"0.2","t":3.2e-14,"e":0.665},{"r":"0.2","t":5e-14,"e":0.75},{"r":"0.2","t":7e-14,"e":0.81},{"r":"0.2","t":1e-13,"e":0.852},{"r":"0.2","t":1.4e-13,"e":0.835},{"r":"0.2","t":2e-13,"e":0.81},{"r":"0.2","t":3e-13,"e":0.77},{"r":"0.2","t":6e-13,"e":0.685},{"r":"0.2","t":1.3e-12,"e":0.55},{"r":"0.2","t":2.5e-12,"e":0.425},{"r":"0.2","t":5e-12,"e":0.31},{"r":"0.2","t":1e-11,"e":0.19},{"r":"0.2","t":2e-11,"e":0.1},{"r":"0.2","t":5e-11,"e":0.05},{"r":"0.2","t":1e-10,"e":0.03},
{"r":"0.4","t":1e-17,"e":0.022},{"r":"0.4","t":5e-16,"e":0.022},{"r":"0.4","t":1e-15,"e":0.04},{"r":"0.4","t":2e-15,"e":0.12},{"r":"0.4","t":5e-15,"e":0.28},{"r":"0.4","t":1e-14,"e":0.41},{"r":"0.4","t":2e-14,"e":0.545},{"r":"0.4","t":3.2e-14,"e":0.625},{"r":"0.4","t":5e-14,"e":0.715},{"r":"0.4","t":7e-14,"e":0.775},{"r":"0.4","t":1e-13,"e":0.825},{"r":"0.4","t":1.4e-13,"e":0.815},{"r":"0.4","t":2e-13,"e":0.795},{"r":"0.4","t":3e-13,"e":0.76},{"r":"0.4","t":6e-13,"e":0.685},{"r":"0.4","t":1.3e-12,"e":0.55},{"r":"0.4","t":2.5e-12,"e":0.425},{"r":"0.4","t":5e-12,"e":0.31},{"r":"0.4","t":1e-11,"e":0.19},{"r":"0.4","t":2e-11,"e":0.1},{"r":"0.4","t":5e-11,"e":0.05},{"r":"0.4","t":1e-10,"e":0.03},
{"r":"0.6","t":1e-17,"e":0.022},{"r":"0.6","t":5e-16,"e":0.022},{"r":"0.6","t":1e-15,"e":0.035},{"r":"0.6","t":2e-15,"e":0.1},{"r":"0.6","t":5e-15,"e":0.24},{"r":"0.6","t":1e-14,"e":0.365},{"r":"0.6","t":2e-14,"e":0.5},{"r":"0.6","t":3.2e-14,"e":0.585},{"r":"0.6","t":5e-14,"e":0.67},{"r":"0.6","t":7e-14,"e":0.735},{"r":"0.6","t":1e-13,"e":0.788},{"r":"0.6","t":1.4e-13,"e":0.775},{"r":"0.6","t":2e-13,"e":0.76},{"r":"0.6","t":3e-13,"e":0.735},{"r":"0.6","t":6e-13,"e":0.68},{"r":"0.6","t":1.3e-12,"e":0.55},{"r":"0.6","t":2.5e-12,"e":0.425},{"r":"0.6","t":5e-12,"e":0.31},{"r":"0.6","t":1e-11,"e":0.19},{"r":"0.6","t":2e-11,"e":0.1},{"r":"0.6","t":5e-11,"e":0.05},{"r":"0.6","t":1e-10,"e":0.03},
{"r":"1","t":1e-17,"e":0.022},{"r":"1","t":5e-16,"e":0.022},{"r":"1","t":1e-15,"e":0.027},{"r":"1","t":2e-15,"e":0.07},{"r":"1","t":5e-15,"e":0.165},{"r":"1","t":1e-14,"e":0.28},{"r":"1","t":2e-14,"e":0.415},{"r":"1","t":3.2e-14,"e":0.5},{"r":"1","t":5e-14,"e":0.585},{"r":"1","t":7e-14,"e":0.645},{"r":"1","t":1e-13,"e":0.709},{"r":"1","t":1.4e-13,"e":0.709},{"r":"1","t":2e-13,"e":0.7},{"r":"1","t":3e-13,"e":0.675},{"r":"1","t":6e-13,"e":0.615},{"r":"1","t":1.3e-12,"e":0.52},{"r":"1","t":2.5e-12,"e":0.42},{"r":"1","t":5e-12,"e":0.31},{"r":"1","t":1e-11,"e":0.19},{"r":"1","t":2e-11,"e":0.1},{"r":"1","t":5e-11,"e":0.05},{"r":"1","t":1e-10,"e":0.03},
{"r":"2","t":1e-17,"e":0.022},{"r":"2","t":1e-15,"e":0.022},{"r":"2","t":2e-15,"e":0.026},{"r":"2","t":5e-15,"e":0.09},{"r":"2","t":1e-14,"e":0.16},{"r":"2","t":2e-14,"e":0.255},{"r":"2","t":3.2e-14,"e":0.325},{"r":"2","t":5e-14,"e":0.405},{"r":"2","t":7e-14,"e":0.46},{"r":"2","t":1e-13,"e":0.52},{"r":"2","t":1.4e-13,"e":0.528},{"r":"2","t":2e-13,"e":0.535},{"r":"2","t":3e-13,"e":0.532},{"r":"2","t":6e-13,"e":0.515},{"r":"2","t":1.3e-12,"e":0.455},{"r":"2","t":2.5e-12,"e":0.375},{"r":"2","t":5e-12,"e":0.29},{"r":"2","t":1e-11,"e":0.19},{"r":"2","t":2e-11,"e":0.1},{"r":"2","t":5e-11,"e":0.05},{"r":"2","t":1e-10,"e":0.03},
{"r":"5","t":1e-17,"e":0.022},{"r":"5","t":5e-15,"e":0.023},{"r":"5","t":1e-14,"e":0.035},{"r":"5","t":2e-14,"e":0.063},{"r":"5","t":3.2e-14,"e":0.088},{"r":"5","t":5e-14,"e":0.13},{"r":"5","t":7e-14,"e":0.17},{"r":"5","t":1e-13,"e":0.205},{"r":"5","t":1.4e-13,"e":0.222},{"r":"5","t":2e-13,"e":0.237},{"r":"5","t":3e-13,"e":0.24},{"r":"5","t":6e-13,"e":0.238},{"r":"5","t":1.3e-12,"e":0.233},{"r":"5","t":2.5e-12,"e":0.222},{"r":"5","t":5e-12,"e":0.18},{"r":"5","t":1e-11,"e":0.136},{"r":"5","t":2e-11,"e":0.09},{"r":"5","t":5e-11,"e":0.048},{"r":"5","t":1e-10,"e":0.03}
]
},
"concat": [
{"width": 371, "height": 240, "title": {"text": "(a)", "subtitle": "S @ 100 MeV"},
 "layer": [
  {"data": {"values": [{}]}, "mark": {"type": "rule", "stroke": "#3b9683", "strokeWidth": 2, "strokeDash": [11,4,3,4]},
   "encoding": {"y": {"datum": 0.85, "type": "quantitative", "scale": {"domain": [0,1.2], "nice": false, "zero": false}, "axis": null}}},
  {"data": {"name": "a1"}, "mark": {"type": "line", "clip": true},
   "encoding": {
    "x": {"field": "t", "type": "quantitative", "scale": {"type": "log", "domain": [1e-17,1e-10], "nice": false}, "axis": {"orient": "bottom", "values": {"expr": "xa"}, "tickSize": {"condition": {"test": "abs(log(datum.value)/LN10-round(log(datum.value)/LN10))<0.01", "value": -6}, "value": -3}, "labels": false, "title": null}},
    "y": {"field": "e", "type": "quantitative", "scale": {"domain": [0,1.2], "nice": false, "zero": false}, "axis": {"orient": "left", "values": [0,0.2,0.4,0.6,0.8,1,1.2], "tickSize": {"condition": {"test": "abs(datum.value/0.4-round(datum.value/0.4))<0.01", "value": -6}, "value": -3}, "labelExpr": "abs(datum.value/0.4-round(datum.value/0.4))<0.01?format(datum.value,'.1f'):''", "labelPadding": 14, "title": "Energy (eV at⁻¹)", "titleFontSize": 28, "titlePadding": 12}},
    "color": {"field": "r", "type": "nominal", "scale": {"domain": ["0","0.2","0.4","0.6","1","2","5"], "range": ["#3c3c3c","#ff2b2b","#3a73e8","#3fb35e","#b46ef0","#c39a1e","#48e0d0"]}, "legend": {"title": " ", "labelExpr": "'r=' + datum.label + ' nm'", "fillColor": "#ffffff"}}}},
  {"data": {"values": [{}]}, "mark": {"type": "rect", "fill": "#c8c8c8"},
   "encoding": {"x": {"datum": 2.2e-12, "type": "quantitative", "scale": {"type": "log", "domain": [1e-17,1e-10], "nice": false}, "axis": {"orient": "top", "values": {"expr": "xa"}, "tickSize": {"condition": {"test": "abs(log(datum.value)/LN10-round(log(datum.value)/LN10))<0.01", "value": -6}, "value": -3}, "labels": false, "title": null}}, "x2": {"datum": 4.4e-11},
    "y": {"datum": 1.145, "type": "quantitative", "scale": {"domain": [0,1.2], "nice": false, "zero": false}, "axis": {"orient": "right", "values": [0,0.2,0.4,0.6,0.8,1,1.2], "tickSize": {"condition": {"test": "abs(datum.value/0.4-round(datum.value/0.4))<0.01", "value": -6}, "value": -3}, "labels": false, "title": null}}, "y2": {"datum": 0.95}}},
  {"data": {"values": [{}]}, "mark": {"type": "text", "text": "Sₑ+Sₙ", "fontSize": 24, "color": "#000"},
   "encoding": {"x": {"datum": 9.8e-12, "type": "quantitative", "scale": {"type": "log", "domain": [1e-17,1e-10], "nice": false}, "axis": null}, "y": {"datum": 1.05, "type": "quantitative", "scale": {"domain": [0,1.2], "nice": false, "zero": false}, "axis": null}}},
  {"data": {"values": [{}]}, "mark": {"type": "text", "text": "Eₘₑₗₜ", "fontSize": 19, "fontWeight": "bold", "color": "#3b9683", "align": "left", "baseline": "alphabetic"},
   "encoding": {"x": {"datum": 7.8e-12, "type": "quantitative", "scale": {"type": "log", "domain": [1e-17,1e-10], "nice": false}, "axis": null}, "y": {"datum": 0.69, "type": "quantitative", "scale": {"domain": [0,1.2], "nice": false, "zero": false}, "axis": null}}}
 ],
 "resolve": {"axis": {"x": "independent", "y": "independent"}}},
{"width": 370, "height": 240, "title": {"text": "(b)", "subtitle": "I @ 60 MeV"},
 "layer": [
  {"data": {"values": [{}]}, "mark": {"type": "rule", "stroke": "#3b9683", "strokeWidth": 2, "strokeDash": [11,4,3,4]},
   "encoding": {"y": {"datum": 0.85, "type": "quantitative", "scale": {"domain": [0,1.2], "nice": false, "zero": false}, "axis": null}}},
  {"data": {"name": "b1"}, "mark": {"type": "line", "clip": true},
   "encoding": {
    "x": {"field": "t", "type": "quantitative", "scale": {"type": "log", "domain": [1e-17,5.4e-11], "nice": false}, "axis": {"orient": "bottom", "values": {"expr": "xb"}, "tickSize": {"condition": {"test": "abs(log(datum.value)/LN10-round(log(datum.value)/LN10))<0.01", "value": -6}, "value": -3}, "labels": false, "title": null}},
    "y": {"field": "e", "type": "quantitative", "scale": {"domain": [0,1.2], "nice": false, "zero": false}, "axis": {"orient": "left", "values": [0,0.2,0.4,0.6,0.8,1,1.2], "tickSize": {"condition": {"test": "abs(datum.value/0.4-round(datum.value/0.4))<0.01", "value": -6}, "value": -3}, "labels": false, "title": null}},
    "color": {"field": "r", "type": "nominal", "scale": {"domain": ["0","0.2","0.4","0.6","1","2","5"], "range": ["#ff1a1a","#3c3c3c","#f23a3a","#3a73e8","#b46ef0","#c39a1e","#48e0d0"]}, "legend": {"title": " ", "labelExpr": "'r=' + datum.label + ' nm'"}}}},
  {"data": {"values": [{}]}, "mark": {"type": "rect", "fill": "#c8c8c8"},
   "encoding": {"x": {"datum": 1.45e-12, "type": "quantitative", "scale": {"type": "log", "domain": [1e-17,5.4e-11], "nice": false}, "axis": {"orient": "top", "values": {"expr": "xb"}, "tickSize": {"condition": {"test": "abs(log(datum.value)/LN10-round(log(datum.value)/LN10))<0.01", "value": -6}, "value": -3}, "labels": false, "title": null}}, "x2": {"datum": 2.75e-11},
    "y": {"datum": 1.145, "type": "quantitative", "scale": {"domain": [0,1.2], "nice": false, "zero": false}, "axis": {"orient": "right", "values": [0,0.2,0.4,0.6,0.8,1,1.2], "tickSize": {"condition": {"test": "abs(datum.value/0.4-round(datum.value/0.4))<0.01", "value": -6}, "value": -3}, "labels": false, "title": null}}, "y2": {"datum": 0.95}}},
  {"data": {"values": [{}]}, "mark": {"type": "text", "text": "Sₑ+Sₙ", "fontSize": 24, "color": "#000"},
   "encoding": {"x": {"datum": 6.3e-12, "type": "quantitative", "scale": {"type": "log", "domain": [1e-17,5.4e-11], "nice": false}, "axis": null}, "y": {"datum": 1.05, "type": "quantitative", "scale": {"domain": [0,1.2], "nice": false, "zero": false}, "axis": null}}},
  {"data": {"values": [{}]}, "mark": {"type": "text", "text": "Eₘₑₗₜ", "fontSize": 19, "fontWeight": "bold", "color": "#3b9683", "align": "left", "baseline": "alphabetic"},
   "encoding": {"x": {"datum": 5.05e-12, "type": "quantitative", "scale": {"type": "log", "domain": [1e-17,5.4e-11], "nice": false}, "axis": null}, "y": {"datum": 0.743, "type": "quantitative", "scale": {"domain": [0,1.2], "nice": false, "zero": false}, "axis": null}}}
 ],
 "resolve": {"axis": {"x": "independent", "y": "independent"}}},
{"width": 369, "height": 240, "title": {"text": "(c)", "subtitle": "I @ 100 MeV"},
 "layer": [
  {"data": {"values": [{}]}, "mark": {"type": "rule", "stroke": "#3b9683", "strokeWidth": 2, "strokeDash": [11,4,3,4]},
   "encoding": {"y": {"datum": 0.85, "type": "quantitative", "scale": {"domain": [0,1.2], "nice": false, "zero": false}, "axis": null}}},
  {"data": {"name": "c1"}, "mark": {"type": "line", "clip": true},
   "encoding": {
    "x": {"field": "t", "type": "quantitative", "scale": {"type": "log", "domain": [1e-17,1e-10], "nice": false}, "axis": {"orient": "bottom", "values": {"expr": "xa"}, "tickSize": {"condition": {"test": "abs(log(datum.value)/LN10-round(log(datum.value)/LN10))<0.01", "value": -6}, "value": -3}, "labels": false, "title": null}},
    "y": {"field": "e", "type": "quantitative", "scale": {"domain": [0,1.2], "nice": false, "zero": false}, "axis": {"orient": "left", "values": [0,0.2,0.4,0.6,0.8,1,1.2], "tickSize": {"condition": {"test": "abs(datum.value/0.4-round(datum.value/0.4))<0.01", "value": -6}, "value": -3}, "labels": false, "title": null}},
    "color": {"field": "r", "type": "nominal", "scale": {"domain": ["0","0.2","0.4","0.6","1","2","5"], "range": ["#3c3c3c","#ff2b2b","#3a73e8","#3fb35e","#b46ef0","#c39a1e","#48e0d0"]}, "legend": {"title": " ", "labelExpr": "'r=' + datum.label + ' nm'"}}}},
  {"data": {"values": [{}]}, "mark": {"type": "rect", "fill": "#c8c8c8"},
   "encoding": {"x": {"datum": 2.24e-12, "type": "quantitative", "scale": {"type": "log", "domain": [1e-17,1e-10], "nice": false}, "axis": {"orient": "top", "values": {"expr": "xa"}, "tickSize": {"condition": {"test": "abs(log(datum.value)/LN10-round(log(datum.value)/LN10))<0.01", "value": -6}, "value": -3}, "labels": false, "title": null}}, "x2": {"datum": 5e-11},
    "y": {"datum": 1.13, "type": "quantitative", "scale": {"domain": [0,1.2], "nice": false, "zero": false}, "axis": {"orient": "right", "values": [0,0.2,0.4,0.6,0.8,1,1.2], "tickSize": {"condition": {"test": "abs(datum.value/0.4-round(datum.value/0.4))<0.01", "value": -6}, "value": -3}, "labels": false, "title": null}}, "y2": {"datum": 0.945}}},
  {"data": {"values": [{}]}, "mark": {"type": "text", "text": "Sₑ+Sₙ", "fontSize": 24, "color": "#000"},
   "encoding": {"x": {"datum": 1.06e-11, "type": "quantitative", "scale": {"type": "log", "domain": [1e-17,1e-10], "nice": false}, "axis": null}, "y": {"datum": 1.04, "type": "quantitative", "scale": {"domain": [0,1.2], "nice": false, "zero": false}, "axis": null}}},
  {"data": {"values": [{}]}, "mark": {"type": "text", "text": "Eₘₑₗₜ", "fontSize": 19, "fontWeight": "bold", "color": "#3b9683", "align": "left", "baseline": "alphabetic"},
   "encoding": {"x": {"datum": 8.1e-12, "type": "quantitative", "scale": {"type": "log", "domain": [1e-17,1e-10], "nice": false}, "axis": null}, "y": {"datum": 0.72, "type": "quantitative", "scale": {"domain": [0,1.2], "nice": false, "zero": false}, "axis": null}}}
 ],
 "resolve": {"axis": {"x": "independent", "y": "independent"}}},
{"width": 371, "height": 240,
 "layer": [
  {"data": {"name": "a2"}, "mark": {"type": "line", "clip": true},
   "encoding": {
    "x": {"field": "t", "type": "quantitative", "scale": {"type": "log", "domain": [1e-17,1e-10], "nice": false}, "axis": {"orient": "bottom", "values": {"expr": "xa"}, "tickSize": {"condition": {"test": "abs(log(datum.value)/LN10-round(log(datum.value)/LN10))<0.01", "value": -6}, "value": -3}, "labels": false, "title": null}},
    "y": {"field": "e", "type": "quantitative", "scale": {"domain": [0,0.289], "nice": false, "zero": false}, "axis": {"orient": "left", "values": [0,0.05,0.1,0.15,0.2,0.25], "tickSize": {"condition": {"test": "abs(datum.value/0.1-round(datum.value/0.1))<0.01", "value": -6}, "value": -3}, "labelExpr": "abs(datum.value/0.1-round(datum.value/0.1))<0.01?format(datum.value,'.1f'):''", "labelPadding": 14, "title": "Energy (eV at⁻¹)", "titleFontSize": 28, "titlePadding": 12}},
    "color": {"field": "r", "type": "nominal", "scale": {"domain": ["0","0.2","0.4","0.6","1","2","5"], "range": ["#3c3c3c","#ff2b2b","#3a73e8","#3fb35e","#b46ef0","#c39a1e","#48e0d0"]}, "legend": {"title": " ", "labelExpr": "'r=' + datum.label + ' nm'", "fillColor": "#ffffff"}}}},
  {"data": {"values": [{}]}, "mark": {"type": "rect", "fill": "#c8c8c8"},
   "encoding": {"x": {"datum": 9.6e-12, "type": "quantitative", "scale": {"type": "log", "domain": [1e-17,1e-10], "nice": false}, "axis": {"orient": "top", "values": {"expr": "xa"}, "tickSize": {"condition": {"test": "abs(log(datum.value)/LN10-round(log(datum.value)/LN10))<0.01", "value": -6}, "value": -3}, "labels": false, "title": null}}, "x2": {"datum": 3.8e-11},
    "y": {"datum": 0.268, "type": "quantitative", "scale": {"domain": [0,0.289], "nice": false, "zero": false}, "axis": {"orient": "right", "values": [0,0.05,0.1,0.15,0.2,0.25], "tickSize": {"condition": {"test": "abs(datum.value/0.1-round(datum.value/0.1))<0.01", "value": -6}, "value": -3}, "labels": false, "title": null}}, "y2": {"datum": 0.223}}},
  {"data": {"values": [{}]}, "mark": {"type": "text", "text": "Sₙ", "fontSize": 24, "color": "#000"},
   "encoding": {"x": {"datum": 1.9e-11, "type": "quantitative", "scale": {"type": "log", "domain": [1e-17,1e-10], "nice": false}, "axis": null}, "y": {"datum": 0.2455, "type": "quantitative", "scale": {"domain": [0,0.289], "nice": false, "zero": false}, "axis": null}}}
 ],
 "resolve": {"axis": {"x": "independent", "y": "independent"}}},
{"width": 370, "height": 240,
 "layer": [
  {"data": {"name": "b2"}, "mark": {"type": "line", "clip": true},
   "encoding": {
    "x": {"field": "t", "type": "quantitative", "scale": {"type": "log", "domain": [1e-17,5.4e-11], "nice": false}, "axis": {"orient": "bottom", "values": {"expr": "xb"}, "tickSize": {"condition": {"test": "abs(log(datum.value)/LN10-round(log(datum.value)/LN10))<0.01", "value": -6}, "value": -3}, "labels": false, "title": null}},
    "y": {"field": "e", "type": "quantitative", "scale": {"domain": [0,0.289], "nice": false, "zero": false}, "axis": {"orient": "left", "values": [0,0.05,0.1,0.15,0.2,0.25], "tickSize": {"condition": {"test": "abs(datum.value/0.1-round(datum.value/0.1))<0.01", "value": -6}, "value": -3}, "labels": false, "title": null}},
    "color": {"field": "r", "type": "nominal", "scale": {"domain": ["0","0.2","0.4","0.6","1","2","5"], "range": ["#3c3c3c","#ff2b2b","#3a73e8","#3fb35e","#b46ef0","#c39a1e","#48e0d0"]}, "legend": null}}},
  {"data": {"name": "b2"}, "mark": {"type": "line", "opacity": 0},
   "encoding": {
    "x": {"field": "t", "type": "quantitative", "scale": {"type": "log", "domain": [1e-17,5.4e-11], "nice": false}, "axis": null},
    "y": {"field": "e", "type": "quantitative", "scale": {"domain": [0,0.289], "nice": false, "zero": false}, "axis": null},
    "color": {"field": "r", "type": "nominal", "scale": {"domain": ["0","0.2","0.4","0.6","1","2","5"], "range": ["#ff1a1a","#3c3c3c","#f23a3a","#3a73e8","#b46ef0","#c39a1e","#48e0d0"]}, "legend": {"title": " ", "labelExpr": "'r=' + datum.label + ' nm'", "symbolOpacity": 1}}}},
  {"data": {"values": [{}]}, "mark": {"type": "rect", "fill": "#c8c8c8"},
   "encoding": {"x": {"datum": 5.75e-12, "type": "quantitative", "scale": {"type": "log", "domain": [1e-17,5.4e-11], "nice": false}, "axis": {"orient": "top", "values": {"expr": "xb"}, "tickSize": {"condition": {"test": "abs(log(datum.value)/LN10-round(log(datum.value)/LN10))<0.01", "value": -6}, "value": -3}, "labels": false, "title": null}}, "x2": {"datum": 2.24e-11},
    "y": {"datum": 0.268, "type": "quantitative", "scale": {"domain": [0,0.289], "nice": false, "zero": false}, "axis": {"orient": "right", "values": [0,0.05,0.1,0.15,0.2,0.25], "tickSize": {"condition": {"test": "abs(datum.value/0.1-round(datum.value/0.1))<0.01", "value": -6}, "value": -3}, "labels": false, "title": null}}, "y2": {"datum": 0.223}}},
  {"data": {"values": [{}]}, "mark": {"type": "text", "text": "Sₙ", "fontSize": 24, "color": "#000"},
   "encoding": {"x": {"datum": 1.13e-11, "type": "quantitative", "scale": {"type": "log", "domain": [1e-17,5.4e-11], "nice": false}, "axis": null}, "y": {"datum": 0.2455, "type": "quantitative", "scale": {"domain": [0,0.289], "nice": false, "zero": false}, "axis": null}}}
 ],
 "resolve": {"scale": {"color": "independent"}, "legend": {"color": "independent"}, "axis": {"x": "independent", "y": "independent"}}},
{"width": 369, "height": 240,
 "layer": [
  {"data": {"name": "c2"}, "mark": {"type": "line", "clip": true},
   "encoding": {
    "x": {"field": "t", "type": "quantitative", "scale": {"type": "log", "domain": [1e-17,1e-10], "nice": false}, "axis": {"orient": "bottom", "values": {"expr": "xa"}, "tickSize": {"condition": {"test": "abs(log(datum.value)/LN10-round(log(datum.value)/LN10))<0.01", "value": -6}, "value": -3}, "labels": false, "title": null}},
    "y": {"field": "e", "type": "quantitative", "scale": {"domain": [0,0.289], "nice": false, "zero": false}, "axis": {"orient": "left", "values": [0,0.05,0.1,0.15,0.2,0.25], "tickSize": {"condition": {"test": "abs(datum.value/0.1-round(datum.value/0.1))<0.01", "value": -6}, "value": -3}, "labels": false, "title": null}},
    "color": {"field": "r", "type": "nominal", "scale": {"domain": ["0","0.2","0.4","0.6","1","2","5"], "range": ["#3c3c3c","#ff2b2b","#3a73e8","#3fb35e","#b46ef0","#c39a1e","#48e0d0"]}, "legend": {"title": " ", "labelExpr": "'r=' + datum.label + ' nm'"}}}},
  {"data": {"values": [{}]}, "mark": {"type": "rect", "fill": "#c8c8c8"},
   "encoding": {"x": {"datum": 1.05e-11, "type": "quantitative", "scale": {"type": "log", "domain": [1e-17,1e-10], "nice": false}, "axis": {"orient": "top", "values": {"expr": "xa"}, "tickSize": {"condition": {"test": "abs(log(datum.value)/LN10-round(log(datum.value)/LN10))<0.01", "value": -6}, "value": -3}, "labels": false, "title": null}}, "x2": {"datum": 4.3e-11},
    "y": {"datum": 0.266, "type": "quantitative", "scale": {"domain": [0,0.289], "nice": false, "zero": false}, "axis": {"orient": "right", "values": [0,0.05,0.1,0.15,0.2,0.25], "tickSize": {"condition": {"test": "abs(datum.value/0.1-round(datum.value/0.1))<0.01", "value": -6}, "value": -3}, "labels": false, "title": null}}, "y2": {"datum": 0.221}}},
  {"data": {"values": [{}]}, "mark": {"type": "text", "text": "Sₙ", "fontSize": 24, "color": "#000"},
   "encoding": {"x": {"datum": 2.1e-11, "type": "quantitative", "scale": {"type": "log", "domain": [1e-17,1e-10], "nice": false}, "axis": null}, "y": {"datum": 0.2435, "type": "quantitative", "scale": {"domain": [0,0.289], "nice": false, "zero": false}, "axis": null}}}
 ],
 "resolve": {"axis": {"x": "independent", "y": "independent"}}},
{"width": 371, "height": 242,
 "layer": [
  {"data": {"values": [{}]}, "mark": {"type": "rule", "stroke": "#3b9683", "strokeWidth": 2, "strokeDash": [11,4,3,4]},
   "encoding": {"y": {"datum": 0.85, "type": "quantitative", "scale": {"domain": [0,0.988], "nice": false, "zero": false}, "axis": null}}},
  {"data": {"name": "a3"}, "mark": {"type": "line", "clip": true},
   "encoding": {
    "x": {"field": "t", "type": "quantitative", "scale": {"type": "log", "domain": [1e-17,1e-10], "nice": false}, "axis": {"orient": "bottom", "values": {"expr": "xa"}, "tickSize": {"condition": {"test": "abs(log(datum.value)/LN10-round(log(datum.value)/LN10))<0.01", "value": -6}, "value": -3}, "labelExpr": "abs(log(datum.value)/LN10+17)<0.01?'10⁻¹⁷':abs(log(datum.value)/LN10+15)<0.01?'10⁻¹⁵':abs(log(datum.value)/LN10+13)<0.01?'10⁻¹³':abs(log(datum.value)/LN10+11)<0.01?'10⁻¹¹':''", "labelPadding": 10, "title": "Time (s)", "titleFontSize": 27, "titlePadding": 12}},
    "y": {"field": "e", "type": "quantitative", "scale": {"domain": [0,0.988], "nice": false, "zero": false}, "axis": {"orient": "left", "values": [0,0.15,0.3,0.45,0.6,0.75,0.9], "tickSize": {"condition": {"test": "abs(datum.value/0.3-round(datum.value/0.3))<0.01", "value": -6}, "value": -3}, "labelExpr": "abs(datum.value/0.3-round(datum.value/0.3))<0.01?format(datum.value,'.1f'):''", "labelPadding": 14, "title": "Energy (eV at⁻¹)", "titleFontSize": 28, "titlePadding": 12}},
    "color": {"field": "r", "type": "nominal", "scale": {"domain": ["0","0.2","0.4","0.6","1","2","5"], "range": ["#3c3c3c","#ff2b2b","#3a73e8","#3fb35e","#b46ef0","#c39a1e","#48e0d0"]}, "legend": {"title": " ", "labelExpr": "'r=' + datum.label + ' nm'", "fillColor": "#ffffff"}}}},
  {"data": {"values": [{}]}, "mark": {"type": "rect", "fill": "#c8c8c8"},
   "encoding": {"x": {"datum": 1.2e-11, "type": "quantitative", "scale": {"type": "log", "domain": [1e-17,1e-10], "nice": false}, "axis": {"orient": "top", "values": {"expr": "xa"}, "tickSize": {"condition": {"test": "abs(log(datum.value)/LN10-round(log(datum.value)/LN10))<0.01", "value": -6}, "value": -3}, "labels": false, "title": null}}, "x2": {"datum": 4.6e-11},
    "y": {"datum": 0.926, "type": "quantitative", "scale": {"domain": [0,0.988], "nice": false, "zero": false}, "axis": {"orient": "right", "values": [0,0.15,0.3,0.45,0.6,0.75,0.9], "tickSize": {"condition": {"test": "abs(datum.value/0.3-round(datum.value/0.3))<0.01", "value": -6}, "value": -3}, "labels": false, "title": null}}, "y2": {"datum": 0.77}}},
  {"data": {"values": [{}]}, "mark": {"type": "text", "text": "Sₑ", "fontSize": 24, "color": "#000"},
   "encoding": {"x": {"datum": 2.35e-11, "type": "quantitative", "scale": {"type": "log", "domain": [1e-17,1e-10], "nice": false}, "axis": null}, "y": {"datum": 0.848, "type": "quantitative", "scale": {"domain": [0,0.988], "nice": false, "zero": false}, "axis": null}}},
  {"data": {"values": [{}]}, "mark": {"type": "text", "text": "Eₘₑₗₜ", "fontSize": 19, "fontWeight": "bold", "color": "#3b9683", "align": "left", "baseline": "alphabetic"},
   "encoding": {"x": {"datum": 2.04e-13, "type": "quantitative", "scale": {"type": "log", "domain": [1e-17,1e-10], "nice": false}, "axis": null}, "y": {"datum": 0.743, "type": "quantitative", "scale": {"domain": [0,0.988], "nice": false, "zero": false}, "axis": null}}}
 ],
 "resolve": {"axis": {"x": "independent", "y": "independent"}}},
{"width": 370, "height": 242,
 "layer": [
  {"data": {"values": [{}]}, "mark": {"type": "rule", "stroke": "#3b9683", "strokeWidth": 2, "strokeDash": [11,4,3,4]},
   "encoding": {"y": {"datum": 0.85, "type": "quantitative", "scale": {"domain": [0,0.988], "nice": false, "zero": false}, "axis": null}}},
  {"data": {"name": "b3"}, "mark": {"type": "line", "clip": true},
   "encoding": {
    "x": {"field": "t", "type": "quantitative", "scale": {"type": "log", "domain": [1e-17,5.4e-11], "nice": false}, "axis": {"orient": "bottom", "values": {"expr": "xb"}, "tickSize": {"condition": {"test": "abs(log(datum.value)/LN10-round(log(datum.value)/LN10))<0.01", "value": -6}, "value": -3}, "labelExpr": "abs(log(datum.value)/LN10+17)<0.01?'10⁻¹⁷':abs(log(datum.value)/LN10+15)<0.01?'10⁻¹⁵':abs(log(datum.value)/LN10+13)<0.01?'10⁻¹³':abs(log(datum.value)/LN10+11)<0.01?'10⁻¹¹':''", "labelPadding": 10, "title": "Time (s)", "titleFontSize": 27, "titlePadding": 12}},
    "y": {"field": "e", "type": "quantitative", "scale": {"domain": [0,0.988], "nice": false, "zero": false}, "axis": {"orient": "left", "values": [0,0.15,0.3,0.45,0.6,0.75,0.9], "tickSize": {"condition": {"test": "abs(datum.value/0.3-round(datum.value/0.3))<0.01", "value": -6}, "value": -3}, "labels": false, "title": null}},
    "color": {"field": "r", "type": "nominal", "scale": {"domain": ["0","0.2","0.4","0.6","1","2","5"], "range": ["#3c3c3c","#ff2b2b","#3a73e8","#3fb35e","#b46ef0","#c39a1e","#48e0d0"]}, "legend": null}}},
  {"data": {"name": "b3"}, "mark": {"type": "line", "opacity": 0},
   "encoding": {
    "x": {"field": "t", "type": "quantitative", "scale": {"type": "log", "domain": [1e-17,5.4e-11], "nice": false}, "axis": null},
    "y": {"field": "e", "type": "quantitative", "scale": {"domain": [0,0.988], "nice": false, "zero": false}, "axis": null},
    "color": {"field": "r", "type": "nominal", "scale": {"domain": ["0","0.2","0.4","0.6","1","2","5"], "range": ["#ff1a1a","#3c3c3c","#f23a3a","#3a73e8","#b46ef0","#c39a1e","#48e0d0"]}, "legend": {"title": " ", "labelExpr": "'r=' + datum.label + ' nm'", "symbolOpacity": 1}}}},
  {"data": {"values": [{}]}, "mark": {"type": "rect", "fill": "#c8c8c8"},
   "encoding": {"x": {"datum": 7.8e-12, "type": "quantitative", "scale": {"type": "log", "domain": [1e-17,5.4e-11], "nice": false}, "axis": {"orient": "top", "values": {"expr": "xb"}, "tickSize": {"condition": {"test": "abs(log(datum.value)/LN10-round(log(datum.value)/LN10))<0.01", "value": -6}, "value": -3}, "labels": false, "title": null}}, "x2": {"datum": 2.8e-11},
    "y": {"datum": 0.926, "type": "quantitative", "scale": {"domain": [0,0.988], "nice": false, "zero": false}, "axis": {"orient": "right", "values": [0,0.15,0.3,0.45,0.6,0.75,0.9], "tickSize": {"condition": {"test": "abs(datum.value/0.3-round(datum.value/0.3))<0.01", "value": -6}, "value": -3}, "labels": false, "title": null}}, "y2": {"datum": 0.77}}},
  {"data": {"values": [{}]}, "mark": {"type": "text", "text": "Sₑ", "fontSize": 24, "color": "#000"},
   "encoding": {"x": {"datum": 1.48e-11, "type": "quantitative", "scale": {"type": "log", "domain": [1e-17,5.4e-11], "nice": false}, "axis": null}, "y": {"datum": 0.848, "type": "quantitative", "scale": {"domain": [0,0.988], "nice": false, "zero": false}, "axis": null}}},
  {"data": {"values": [{}]}, "mark": {"type": "text", "text": "Eₘₑₗₜ", "fontSize": 19, "fontWeight": "bold", "color": "#3b9683", "align": "left", "baseline": "alphabetic"},
   "encoding": {"x": {"datum": 5.06e-13, "type": "quantitative", "scale": {"type": "log", "domain": [1e-17,5.4e-11], "nice": false}, "axis": null}, "y": {"datum": 0.75, "type": "quantitative", "scale": {"domain": [0,0.988], "nice": false, "zero": false}, "axis": null}}}
 ],
 "resolve": {"scale": {"color": "independent"}, "legend": {"color": "independent"}, "axis": {"x": "independent", "y": "independent"}}},
{"width": 369, "height": 242,
 "layer": [
  {"data": {"values": [{}]}, "mark": {"type": "rule", "stroke": "#3b9683", "strokeWidth": 2, "strokeDash": [11,4,3,4]},
   "encoding": {"y": {"datum": 0.85, "type": "quantitative", "scale": {"domain": [0,0.988], "nice": false, "zero": false}, "axis": null}}},
  {"data": {"name": "c3"}, "mark": {"type": "line", "clip": true},
   "encoding": {
    "x": {"field": "t", "type": "quantitative", "scale": {"type": "log", "domain": [1e-17,1e-10], "nice": false}, "axis": {"orient": "bottom", "values": {"expr": "xa"}, "tickSize": {"condition": {"test": "abs(log(datum.value)/LN10-round(log(datum.value)/LN10))<0.01", "value": -6}, "value": -3}, "labelExpr": "abs(log(datum.value)/LN10+17)<0.01?'10⁻¹⁷':abs(log(datum.value)/LN10+15)<0.01?'10⁻¹⁵':abs(log(datum.value)/LN10+13)<0.01?'10⁻¹³':abs(log(datum.value)/LN10+11)<0.01?'10⁻¹¹':''", "labelPadding": 10, "title": "Time (s)", "titleFontSize": 27, "titlePadding": 12}},
    "y": {"field": "e", "type": "quantitative", "scale": {"domain": [0,0.988], "nice": false, "zero": false}, "axis": {"orient": "left", "values": [0,0.15,0.3,0.45,0.6,0.75,0.9], "tickSize": {"condition": {"test": "abs(datum.value/0.3-round(datum.value/0.3))<0.01", "value": -6}, "value": -3}, "labels": false, "title": null}},
    "color": {"field": "r", "type": "nominal", "scale": {"domain": ["0","0.2","0.4","0.6","1","2","5"], "range": ["#3c3c3c","#ff2b2b","#3a73e8","#3fb35e","#b46ef0","#c39a1e","#48e0d0"]}, "legend": {"title": " ", "labelExpr": "'r=' + datum.label + ' nm'"}}}},
  {"data": {"values": [{}]}, "mark": {"type": "rect", "fill": "#c8c8c8"},
   "encoding": {"x": {"datum": 1.55e-11, "type": "quantitative", "scale": {"type": "log", "domain": [1e-17,1e-10], "nice": false}, "axis": {"orient": "top", "values": {"expr": "xa"}, "tickSize": {"condition": {"test": "abs(log(datum.value)/LN10-round(log(datum.value)/LN10))<0.01", "value": -6}, "value": -3}, "labels": false, "title": null}}, "x2": {"datum": 6e-11},
    "y": {"datum": 0.918, "type": "quantitative", "scale": {"domain": [0,0.988], "nice": false, "zero": false}, "axis": {"orient": "right", "values": [0,0.15,0.3,0.45,0.6,0.75,0.9], "tickSize": {"condition": {"test": "abs(datum.value/0.3-round(datum.value/0.3))<0.01", "value": -6}, "value": -3}, "labels": false, "title": null}}, "y2": {"datum": 0.764}}},
  {"data": {"values": [{}]}, "mark": {"type": "text", "text": "Sₑ", "fontSize": 24, "color": "#000"},
   "encoding": {"x": {"datum": 3.05e-11, "type": "quantitative", "scale": {"type": "log", "domain": [1e-17,1e-10], "nice": false}, "axis": null}, "y": {"datum": 0.84, "type": "quantitative", "scale": {"domain": [0,0.988], "nice": false, "zero": false}, "axis": null}}},
  {"data": {"values": [{}]}, "mark": {"type": "text", "text": "Eₘₑₗₜ", "fontSize": 19, "fontWeight": "bold", "color": "#3b9683", "align": "left", "baseline": "alphabetic"},
   "encoding": {"x": {"datum": 1.9e-12, "type": "quantitative", "scale": {"type": "log", "domain": [1e-17,1e-10], "nice": false}, "axis": null}, "y": {"datum": 0.723, "type": "quantitative", "scale": {"domain": [0,0.988], "nice": false, "zero": false}, "axis": null}}}
 ],
 "resolve": {"axis": {"x": "independent", "y": "independent"}}}
],
"config": {
 "font": "Liberation Sans",
 "view": {"stroke": "#000000", "strokeWidth": 1.8},
 "axis": {"domain": false, "grid": false, "ticks": true, "tickColor": "#000000", "tickWidth": 1.3, "labelFont": "Liberation Sans", "labelFontSize": 20, "labelColor": "#000000", "labelFlush": false, "labelOverlap": false, "titleFont": "Liberation Sans", "titleFontWeight": "normal", "titleColor": "#000000"},
 "legend": {"orient": "top-left", "offset": 9, "padding": 3, "symbolType": "M-1,0H5", "symbolSize": 225, "symbolStrokeWidth": 2.5, "labelFont": "Liberation Sans", "labelFontSize": 20, "labelColor": "#000000", "labelOffset": 36, "rowPadding": 5, "titleFontSize": 4, "titlePadding": 2},
 "line": {"strokeWidth": 2.5, "interpolate": "monotone"},
 "text": {"font": "Liberation Sans"},
 "title": {"font": "Liberation Sans", "fontSize": 28, "fontWeight": "bold", "color": "#000000", "subtitleFont": "Liberation Sans", "subtitleFontSize": 28, "subtitleColor": "#000000", "anchor": "middle", "frame": "group", "offset": 12, "subtitlePadding": 3}
}
}
